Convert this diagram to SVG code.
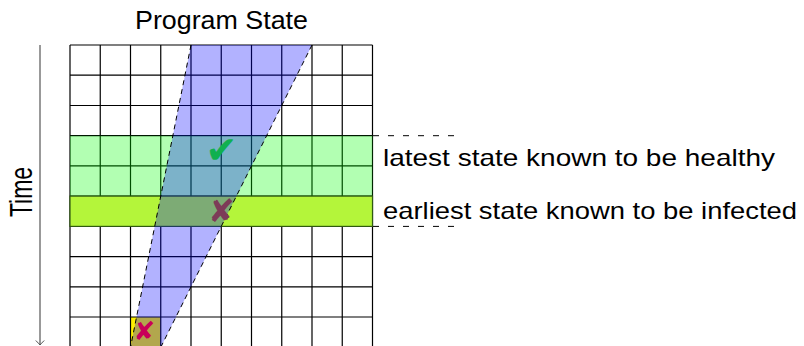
<svg xmlns="http://www.w3.org/2000/svg" width="804" height="346" viewBox="0 0 804 346">
<defs>
<style>
.txt{font-family:"Liberation Sans",Arial,sans-serif;fill:#000}
.grid{fill:none;stroke:#000;stroke-width:1.2}
.edge{fill:none;stroke:#000;stroke-width:1;stroke-dasharray:5 4}
.ext{fill:none;stroke:#000;stroke-width:1;stroke-dasharray:6 9}
.sym{font-family:"DejaVu Sans",sans-serif;text-anchor:middle}
</style>
<marker id="tip" markerWidth="12" markerHeight="12" refX="6" refY="6" orient="auto" markerUnits="userSpaceOnUse">
<path d="M1.5,1.8 Q4.5,4.8 6,6 Q4.5,7.2 1.5,10.2" fill="none" stroke="#555" stroke-width="1"/>
</marker>
</defs>
<rect width="804" height="346" fill="#fff"/>
<g id="infected-origin-cell">
<rect x="130.5" y="317" width="30.25" height="30.3" fill="#fff000"/>
</g>
<g id="grid">
<path class="grid" d="M70,45V350M100.25,45V350M130.5,45V350M160.75,45V350M191,45V350M221.25,45V350M251.5,45V350M281.75,45V350M312,45V350M342.25,45V350M372.5,45V350M70,45H372.5M70,75.2H372.5M70,105.5H372.5M70,135.7H372.5M70,165.9H372.5M70,196.1H372.5M70,226.4H372.5M70,256.6H372.5M70,286.8H372.5M70,317H372.5M70,347.3H372.5"/>
</g>
<g id="healthy-band">
<rect x="70" y="135.7" width="302.5" height="60.4" fill="#00ff00" fill-opacity="0.3"/>
</g>
<g id="infected-band">
<rect x="70" y="196.1" width="302.5" height="30.3" fill="#b4f53a" stroke="#2f5a10" stroke-width="1.2"/>
</g>
<g id="wedge">
<polygon points="191,45 312,45 160.75,347.3 130.5,347.3" fill="#0000ff" fill-opacity="0.3"/>
</g>
<g id="connectors">
<path class="edge" d="M191,45L130.5,347.3M312,45L160.75,347.3"/>
<path class="ext" d="M373,135.7H461M373,226.4H461"/>
<path d="M40,45V345" fill="none" stroke="#555" stroke-width="1.2" marker-end="url(#tip)"/>
</g>
<g id="check">
<text class="sym" x="221.5" y="163" font-size="38" fill="#10b050">✔</text>
</g>
<g id="cross-band">
<text class="sym" x="221.5" y="222" font-size="32" fill="#7d3b58">✘</text>
</g>
<g id="cross-origin">
<text class="sym" x="144.5" y="339.5" font-size="26" fill="#c8005a">✘</text>
</g>
<g id="title">
<text class="txt" x="221.5" y="29" font-size="25" text-anchor="middle" textLength="173" lengthAdjust="spacingAndGlyphs">Program State</text>
</g>
<g id="time-label">
<text class="txt" transform="translate(32,192) rotate(-90) scale(1,1.35)" font-size="23" text-anchor="middle">Time</text>
</g>
<g id="label-healthy">
<text class="txt" x="383" y="166" font-size="24" textLength="392" lengthAdjust="spacingAndGlyphs">latest state known to be healthy</text>
</g>
<g id="label-infected">
<text class="txt" x="383" y="219" font-size="24" textLength="414" lengthAdjust="spacingAndGlyphs">earliest state known to be infected</text>
</g>
</svg>
